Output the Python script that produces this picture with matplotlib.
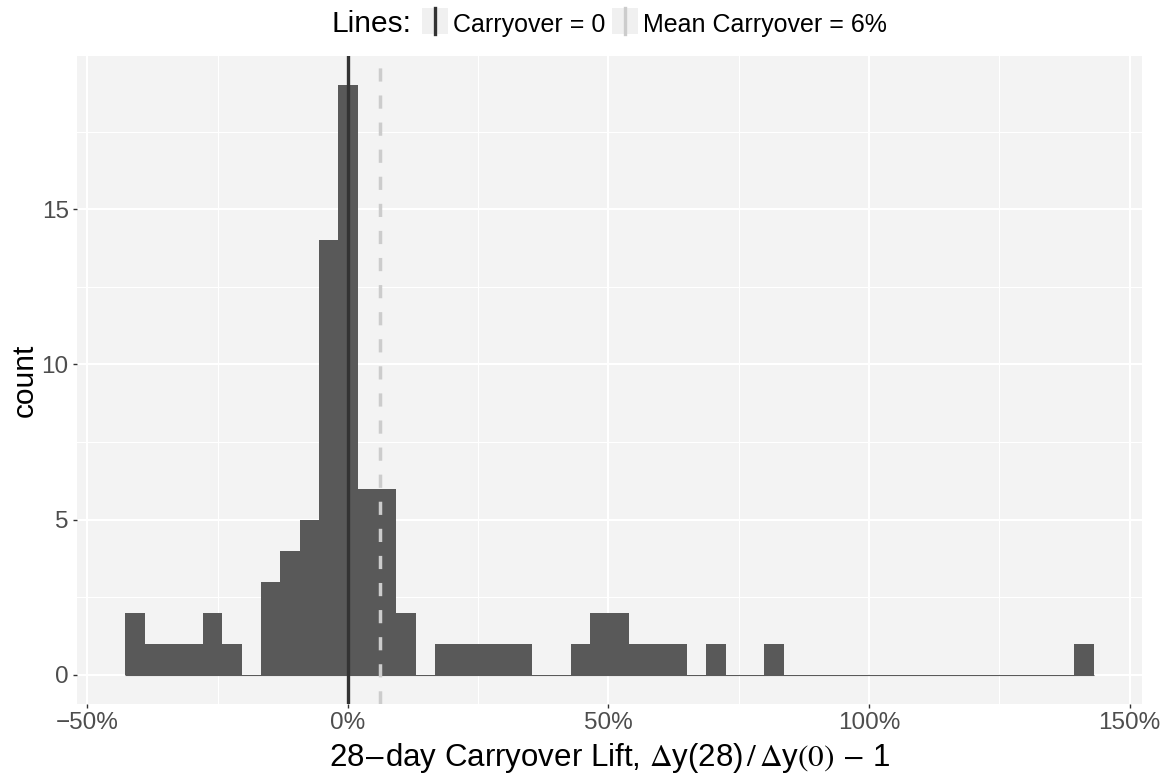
import numpy as np
import matplotlib
matplotlib.use("Agg")
import matplotlib.pyplot as plt
from matplotlib.patches import Rectangle
from matplotlib.lines import Line2D
from matplotlib.ticker import FuncFormatter, MultipleLocator

plt.rcParams["font.family"] = ["Liberation Sans", "DejaVu Sans"]
plt.rcParams["mathtext.fontset"] = "stix"

# ── Data (histogram of 28-day carryover lift, %) ─────────────────────────────
bin_start = -42.7      # left edge of first bin (%)
bin_width = 3.716      # bin width (%)
counts = [2, 1, 1, 1, 2, 1, 0, 3, 4, 5,
          14, 19, 6, 6, 2, 0, 1, 1, 1, 1,
          1, 0, 0, 1, 2, 2, 1, 1, 1, 0,
          1, 0, 0, 1, 0, 0, 0, 0, 0, 0,
          0, 0, 0, 0, 0, 0, 0, 0, 0, 1]
carryover_zero = 0.0
mean_carryover = 6.2
x_ticks = [-50, 0, 50, 100, 150]
y_ticks = [0, 5, 10, 15]

# ── Colours ──────────────────────────────────────────────────────────────────
BAR = "#595959"
PANEL = "#F3F3F3"
ZERO_LINE = "#333333"
MEAN_LINE = "#CCCCCC"
TICK_TXT = "#4D4D4D"

W, H = 1161, 778
fig = plt.figure(figsize=(W / 100, H / 100), dpi=100)
ax = fig.add_axes([77 / W, 1 - 704 / H, (1142 - 77) / W, (704 - 56) / H])
ax.set_facecolor(PANEL)
for s in ax.spines.values():
    s.set_visible(False)

edges = bin_start + bin_width * np.arange(len(counts) + 1)
ax.bar(edges[:-1], counts, width=bin_width, align="edge",
       color=BAR, linewidth=0, zorder=2)
# zero-height bins show as a hairline along the baseline
ax.hlines(0, edges[0], edges[-1], color=BAR, lw=0.8, zorder=1.9)

ax.axvline(carryover_zero, color=ZERO_LINE, lw=2.4, zorder=3)
ax.axvline(mean_carryover, color=MEAN_LINE, lw=2.5,
           linestyle=(0, (3.8, 4.0)), zorder=3)

span = edges[-1] - edges[0]
ax.set_xlim(edges[0] - 0.05 * span, edges[-1] + 0.05 * span)
ax.set_ylim(-0.05 * max(counts), 1.05 * max(counts))

ax.set_xticks(x_ticks)
ax.set_yticks(y_ticks)
ax.xaxis.set_minor_locator(MultipleLocator(25))
ax.yaxis.set_minor_locator(MultipleLocator(2.5))
ax.xaxis.set_major_formatter(FuncFormatter(lambda v, p: f"{v:.0f}%".replace("-", "\u2212")))
ax.grid(which="major", color="white", lw=1.5, zorder=0)
ax.grid(which="minor", color="white", lw=0.75, zorder=0)
ax.set_axisbelow(True)
ax.tick_params(which="major", length=3, width=1.0, color="#333333",
               labelsize=17.5, labelcolor=TICK_TXT, pad=3)
ax.tick_params(which="minor", length=0)

ax.set_ylabel("count", fontsize=21.5, color="black")
ax.yaxis.label.set_verticalalignment("center")
ax.yaxis.set_label_coords(-0.049, 0.5)
ax.xaxis.label.set_text(
    r"28$-$day Carryover Lift, $\Delta$y(28)$\,/\,\Delta$y$\left(0\right)$ $-$ 1")
ax.xaxis.label.set_fontsize(22.5)
ax.xaxis.label.set_verticalalignment("baseline")
ax.xaxis.set_label_coords(0.5, (704 - 766) / (704 - 56))

# ── Legend row at top ────────────────────────────────────────────────────────
def fx(px):
    return px / W

def fy(py):
    return 1 - py / H

base = fy(32)
fig.text(fx(332), base, "Lines:", fontsize=21.5, va="baseline", ha="left")
for x0, col, label in [(422, ZERO_LINE, "Carryover = 0"),
                       (612, MEAN_LINE, "Mean Carryover = 6%")]:
    fig.add_artist(Rectangle((fx(x0), fy(34)), fx(26), fy(8) - fy(34),
                             transform=fig.transFigure, color="#F0F0F0", lw=0))
    fig.add_artist(Line2D([fx(x0 + 13)] * 2, [fy(34), fy(8)],
                          transform=fig.transFigure, color=col, lw=2.4))
    fig.text(fx(x0 + 31), base, label, fontsize=18, va="baseline", ha="left")

fig.savefig("out.png", dpi=100)
